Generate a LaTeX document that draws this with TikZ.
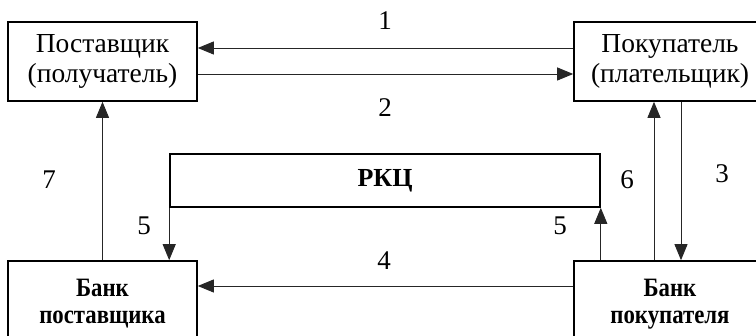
\documentclass[tikz,border=0pt]{standalone}
\usepackage{fontspec}
\setmainfont{Liberation Serif}
\newfontfamily\bankfont{Liberation Serif}[FakeStretch=0.86]
\usetikzlibrary{arrows.meta}
\tikzset{
  box/.style={draw=black, line width=1.6pt, rectangle, inner sep=0pt,
    align=center, font=\fontsize{27.5}{30}\selectfont},
  boldbox/.style={box, font=\bankfont\fontsize{26.5}{27}\selectfont\bfseries},
  arr/.style={draw=black!85, line width=0.9pt,
    -{Triangle[length=16pt,width=13pt]}},
  num/.style={inner sep=0pt, font=\fontsize{27}{30}\selectfont}
}
\begin{document}
\begin{tikzpicture}[x=1pt,y=-1pt]
\useasboundingbox (0,0) rectangle (756,336);
\clip (0,0) rectangle (756,336);

% participants
\node[box, minimum width=189pt, minimum height=79pt] (sup) at (102.5,61.5)
  {Поставщик\\(получатель)};
\node[box, minimum width=192pt, minimum height=79pt] (buy) at (670,61.5)
  {Покупатель\\(плательщик)};
\node[box, font=\fontsize{26}{27}\selectfont\bfseries,
  minimum width=430pt, minimum height=53pt] (rkc) at (385,180.5)
  {РКЦ};
\node[boldbox, minimum width=189pt, minimum height=86pt] (bsup) at (102.5,304)
  {Банк\\поставщика};
\node[boldbox, minimum width=192pt, minimum height=86pt] (bbuy) at (670,304)
  {Банк\\покупателя};

% flows
\draw[arr] ([yshift=13.5pt]buy.west) -- ([yshift=13.5pt]sup.east);
\draw[arr] ([yshift=-12.5pt]sup.east) -- ([yshift=-12.5pt]buy.west);
\draw[arr] ([xshift=11pt]buy.south) -- ([xshift=11pt]bbuy.north);
\draw[arr] ([yshift=18pt]bbuy.west) -- ([yshift=18pt]bsup.east);
\draw[arr] (rkc.south west) -- (rkc.south west |- bsup.north);
\draw[arr] (rkc.south east |- bbuy.north) -- (rkc.south east);
\draw[arr] ([xshift=-16pt]bbuy.north) -- ([xshift=-16pt]buy.south);
\draw[arr] (bsup.north) -- (sup.south);

% step numbers
\node[num] (n1) at (385,21) {1};
\node[num] (n2) at (385,108) {2};
\node[num] (n3) at (722,174) {3};
\node[num] (n4) at (384,261) {4};
\node[num] (n5a) at (144,226) {5};
\node[num] (n5b) at (560,226) {5};
\node[num] (n6) at (627,180) {6};
\node[num] (n7) at (49,180) {7};
\end{tikzpicture}
\end{document}
